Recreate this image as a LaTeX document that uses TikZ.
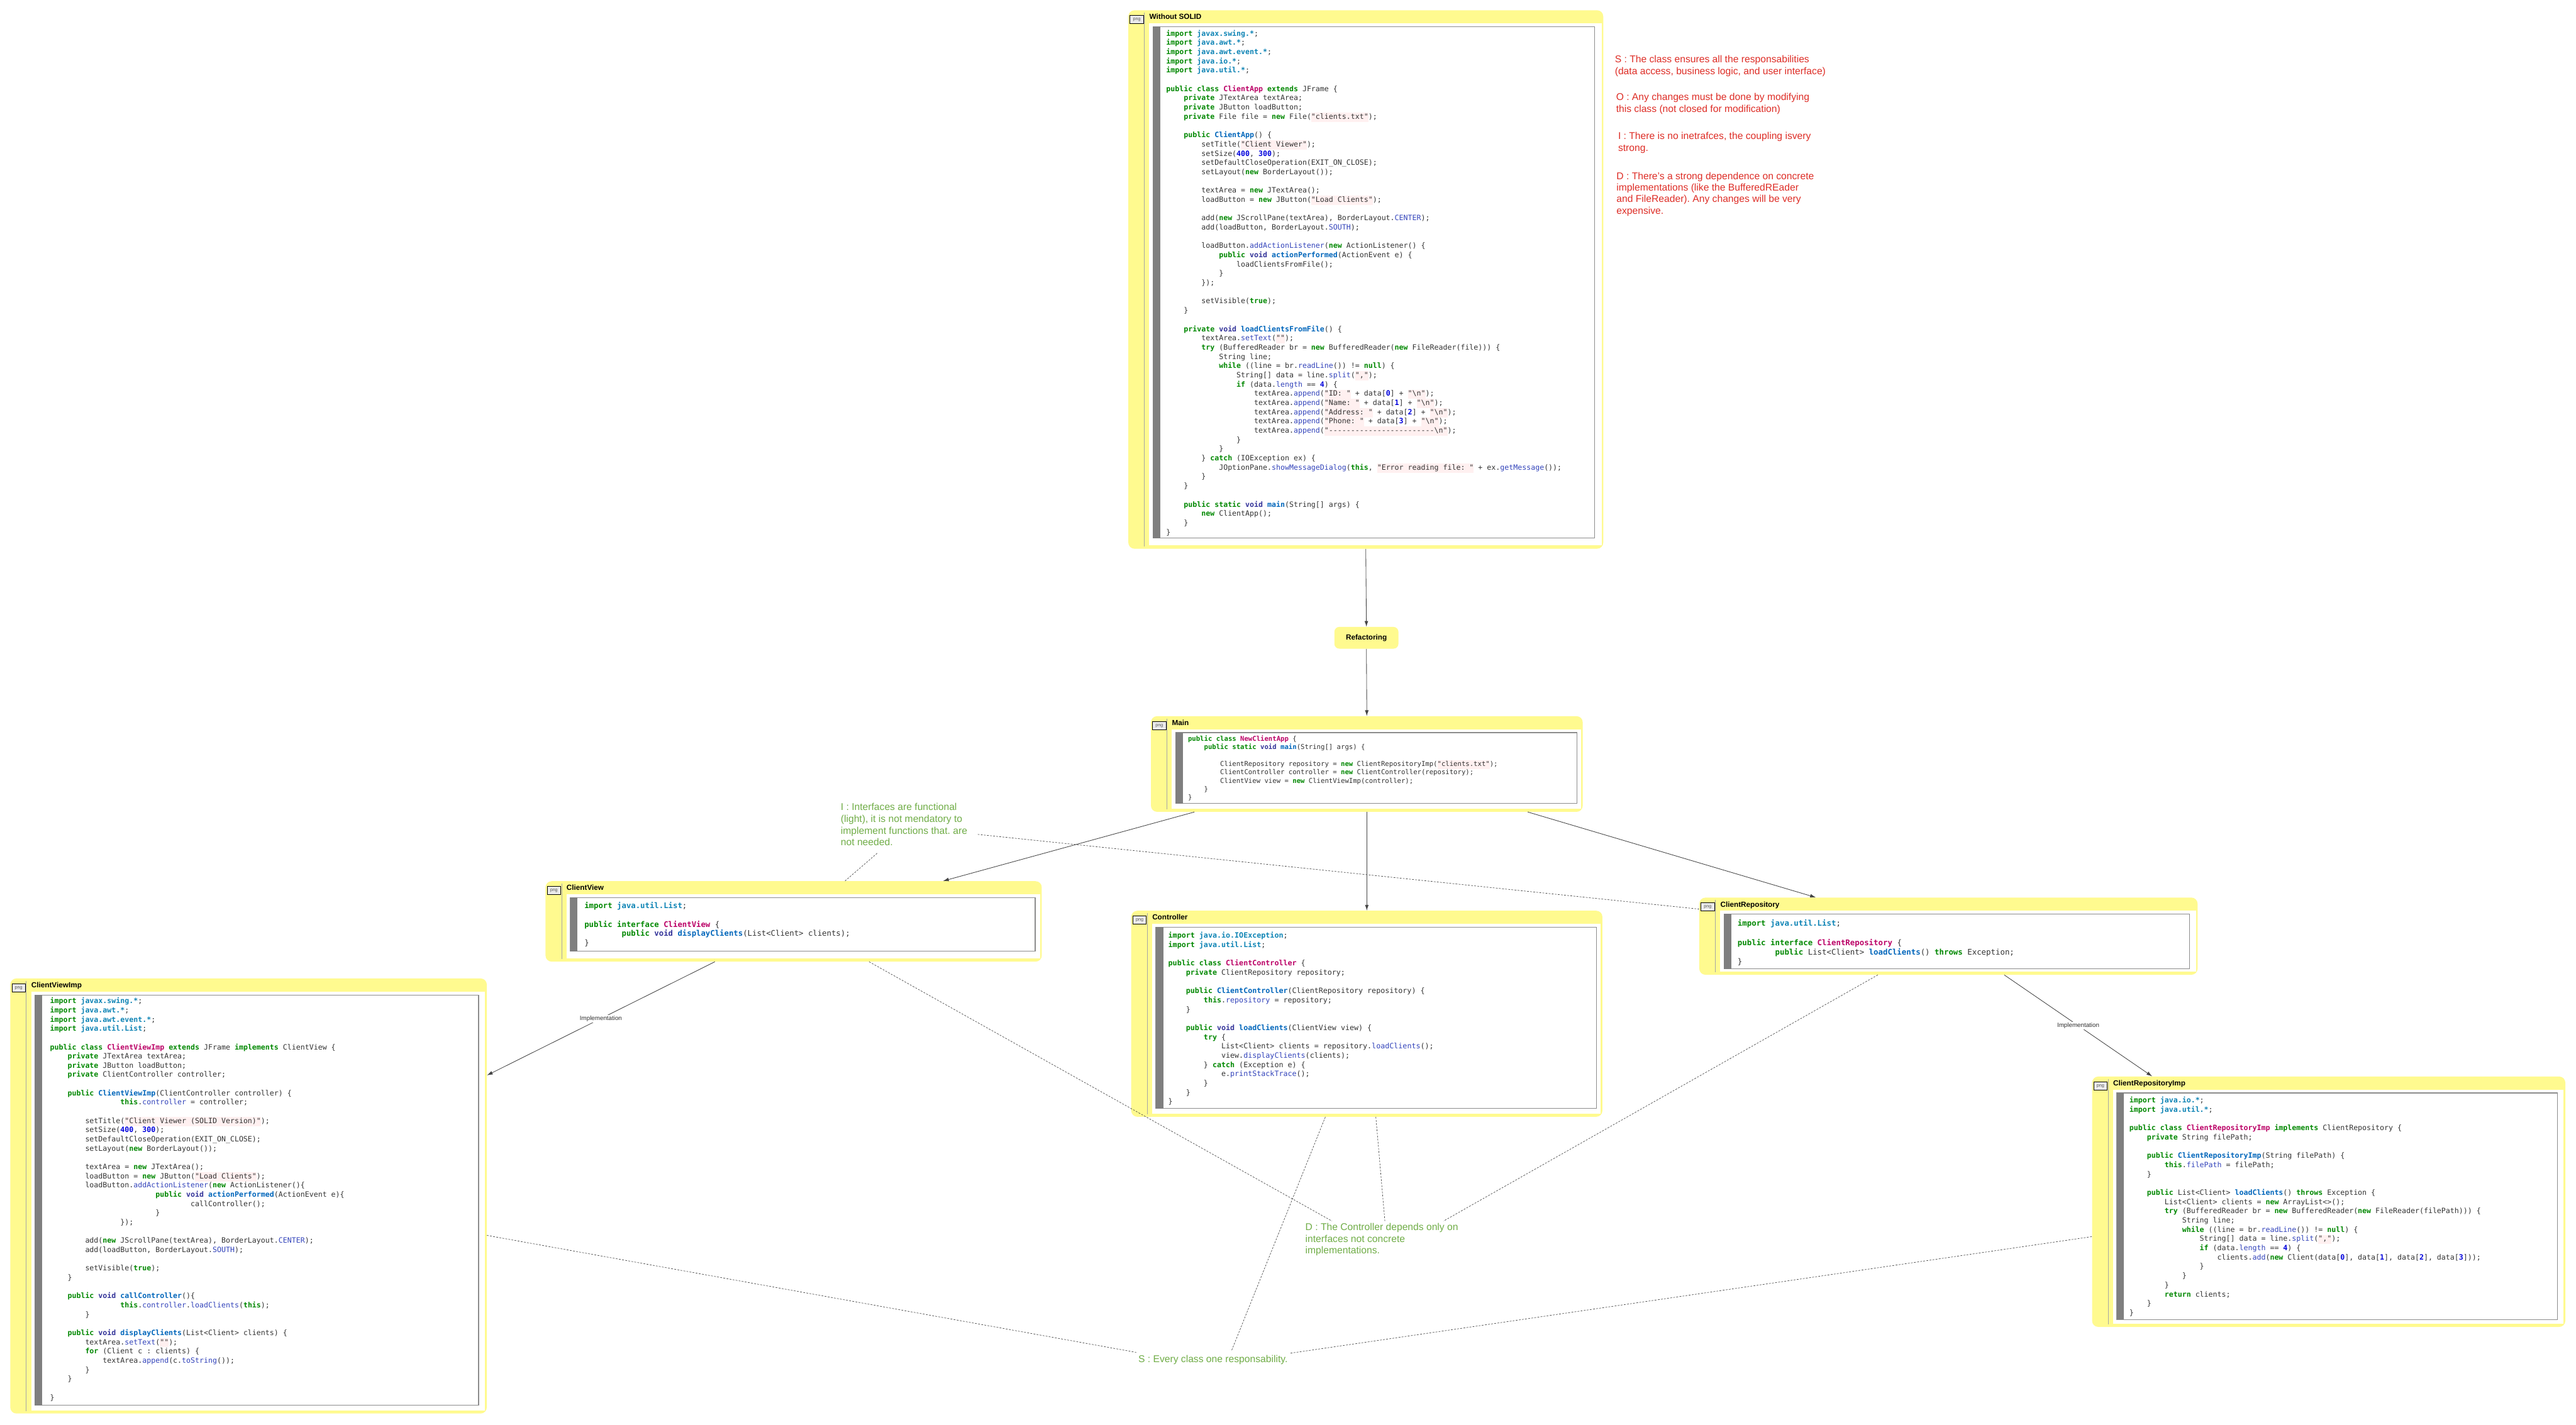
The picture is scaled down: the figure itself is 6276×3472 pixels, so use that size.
\documentclass[tikz,border=0pt]{standalone}
\usepackage{fontspec}
\setmainfont{Liberation Sans}
\newfontfamily\codefont{DejaVu Sans Mono}[Ligatures=TeXOff]
\usetikzlibrary{fit,arrows.meta}
\definecolor{yfill}{HTML}{FFFA8F}
\definecolor{ckw}{HTML}{008800}
\definecolor{cty}{HTML}{333399}
\definecolor{cns}{HTML}{0E84B5}
\definecolor{ccl}{HTML}{BB0066}
\definecolor{cfn}{HTML}{0066BB}
\definecolor{cat}{HTML}{3344BB}
\definecolor{cnum}{HTML}{0000DD}
\definecolor{csbg}{HTML}{FFF0F0}
\definecolor{ctxt}{HTML}{333333}
\definecolor{cred}{HTML}{DE2D26}
\definecolor{cgreen}{HTML}{70AD47}
\definecolor{cline}{HTML}{444444}
\definecolor{cframe}{HTML}{8C8C8C}
\definecolor{cbar}{HTML}{7F7F7F}
\newcommand\xK[1]{{\color{ckw}\bfseries#1}}
\newcommand\xT[1]{{\color{cty}\bfseries#1}}
\newcommand\xN[1]{{\color{cns}\bfseries#1}}
\newcommand\xC[1]{{\color{ccl}\bfseries#1}}
\newcommand\xF[1]{{\color{cfn}\bfseries#1}}
\newcommand\xA[1]{{\color{cat}#1}}
\newcommand\xD[1]{{\color{cnum}\bfseries#1}}
\newcommand\xS[1]{{\setlength\fboxsep{0pt}\colorbox{csbg}{\strut#1}}}
\newcommand\xI[1]{\hskip#1\fontcharwd\font`\x\relax}
\newcommand\xL[1]{\hbox{#1}}
\newcommand\xB{\hbox{}}
\newcommand\xV[1]{\frenchspacing\vtop{\lineskiplimit=-\maxdimen\lineskip=0pt #1}}
\tikzset{
  ybox/.style={fill=yfill, inner sep=0pt, rounded corners=7.5pt},
  iconbox/.style={draw=black, line width=0.6pt, fill=black!8, inner sep=0pt,
    minimum width=16.5pt, minimum height=10pt, text=black!65,
    font=\fontsize{5.5pt}{6pt}\selectfont},
  titletext/.style={anchor=base west, inner sep=0pt, font=\bfseries\fontsize{9pt}{10pt}\selectfont},
  vsep/.style={draw=black!35, line width=0.5pt},
  codeframe/.style={draw=cframe, line width=0.8pt, fill=white},
  codetxt/.style={anchor=base west, inner sep=0pt, text=ctxt},
  arr/.style={draw=cline, line width=0.65pt, -{Latex[length=7pt,width=4.5pt]}},
  dsh/.style={draw=black!75, line width=0.5pt, dash pattern=on 2.2pt off 1.6pt},
  rnote/.style={anchor=base west, inner sep=0pt, text=cred, font=\fontsize{12pt}{14pt}\selectfont},
  gnote/.style={anchor=base west, inner sep=0pt, text=cgreen, font=\fontsize{12pt}{14.2pt}\selectfont},
  impl/.style={fill=white, inner sep=1pt, text=black!80, font=\fontsize{7.5pt}{8pt}\selectfont},
  refbox/.style={fill=yfill, rounded corners=6pt, minimum width=78pt, minimum height=26.5pt,
    inner sep=0pt, font=\bfseries\fontsize{9pt}{10pt}\selectfont}
}
% name, title, x1, y1, x2, y2, frame right inset, frame bottom inset
\newcommand\blk[8]{%
  \node[ybox, fit={(#3,#4) (#5,#6)}] (#1) {};
  \fill[white] (#3+51,#4+32) rectangle (#5-4,#6-8);
  \draw[vsep] (#3+39,#4+6) -- (#3+39,#6-6);
  \node[iconbox] (#1icon) at (#3+20.5,#4+23) {png};
  \node[titletext] (#1title) at (#3+51,#4+22.5) {#2};
  \draw[codeframe] (#3+60,#4+40) rectangle (#5-#7,#6-#8);
  \fill[cbar] (#3+60,#4+40) rectangle (#3+78,#6-#8);
}
\begin{document}
\begin{tikzpicture}[x=0.5pt, y=-0.5pt]
\useasboundingbox (0,0) rectangle (6276,3472);
\fill[white] (0,0) rectangle (6276,3472);

% ---------------- Without SOLID ----------------
\blk{wos}{Without SOLID}{2749}{25}{3906}{1337}{21}{26}
\node[codetxt, font=\codefont\fontsize{8.89pt}{11.25pt}\selectfont] (wosc) at (2841,87.5) {\xV{%
\xL{\xK{import} \xN{javax.swing.*};}
\xL{\xK{import} \xN{java.awt.*};}
\xL{\xK{import} \xN{java.awt.event.*};}
\xL{\xK{import} \xN{java.io.*};}
\xL{\xK{import} \xN{java.util.*};}
\xB
\xL{\xK{public} \xK{class} \xC{ClientApp} \xK{extends} JFrame \{}
\xL{\xI{4}\xK{private} JTextArea textArea;}
\xL{\xI{4}\xK{private} JButton loadButton;}
\xL{\xI{4}\xK{private} File file = \xK{new} File(\xS{"clients.txt"});}
\xB
\xL{\xI{4}\xK{public} \xF{ClientApp}() \{}
\xL{\xI{8}setTitle(\xS{"Client Viewer"});}
\xL{\xI{8}setSize(\xD{400}, \xD{300});}
\xL{\xI{8}setDefaultCloseOperation(EXIT\_ON\_CLOSE);}
\xL{\xI{8}setLayout(\xK{new} BorderLayout());}
\xB
\xL{\xI{8}textArea = \xK{new} JTextArea();}
\xL{\xI{8}loadButton = \xK{new} JButton(\xS{"Load Clients"});}
\xB
\xL{\xI{8}add(\xK{new} JScrollPane(textArea), BorderLayout.\xA{CENTER});}
\xL{\xI{8}add(loadButton, BorderLayout.\xA{SOUTH});}
\xB
\xL{\xI{8}loadButton.\xA{addActionListener}(\xK{new} ActionListener() \{}
\xL{\xI{12}\xK{public} \xT{void} \xF{actionPerformed}(ActionEvent e) \{}
\xL{\xI{16}loadClientsFromFile();}
\xL{\xI{12}\}}
\xL{\xI{8}\});}
\xB
\xL{\xI{8}setVisible(\xK{true});}
\xL{\xI{4}\}}
\xB
\xL{\xI{4}\xK{private} \xT{void} \xF{loadClientsFromFile}() \{}
\xL{\xI{8}textArea.\xA{setText}(\xS{""});}
\xL{\xI{8}\xK{try} (BufferedReader br = \xK{new} BufferedReader(\xK{new} FileReader(file))) \{}
\xL{\xI{12}String line;}
\xL{\xI{12}\xK{while} ((line = br.\xA{readLine}()) != \xK{null}) \{}
\xL{\xI{16}String[] data = line.\xA{split}(\xS{","});}
\xL{\xI{16}\xK{if} (data.\xA{length} == \xD{4}) \{}
\xL{\xI{20}textArea.\xA{append}(\xS{"ID: "} + data[\xD{0}] + \xS{"\textbackslash n"});}
\xL{\xI{20}textArea.\xA{append}(\xS{"Name: "} + data[\xD{1}] + \xS{"\textbackslash n"});}
\xL{\xI{20}textArea.\xA{append}(\xS{"Address: "} + data[\xD{2}] + \xS{"\textbackslash n"});}
\xL{\xI{20}textArea.\xA{append}(\xS{"Phone: "} + data[\xD{3}] + \xS{"\textbackslash n"});}
\xL{\xI{20}textArea.\xA{append}(\xS{"------------------------\textbackslash n"});}
\xL{\xI{16}\}}
\xL{\xI{12}\}}
\xL{\xI{8}\} \xK{catch} (IOException ex) \{}
\xL{\xI{12}JOptionPane.\xA{showMessageDialog}(\xK{this}, \xS{"Error reading file: "} + ex.\xA{getMessage}());}
\xL{\xI{8}\}}
\xL{\xI{4}\}}
\xB
\xL{\xI{4}\xK{public} \xK{static} \xT{void} \xF{main}(String[] args) \{}
\xL{\xI{8}\xK{new} ClientApp();}
\xL{\xI{4}\}}
\xL{\}}
}};

% ---------------- Refactoring ----------------
\node[refbox] (refac) at (3329,1554) {Refactoring};

% ---------------- Main ----------------
\blk{main}{Main}{2804}{1745}{3856}{1978}{14}{20}
\node[codetxt, font=\codefont\fontsize{8.14pt}{10.2pt}\selectfont] (mainc) at (2894,1806) {\xV{%
\xL{\xK{public} \xK{class} \xC{NewClientApp} \{}
\xL{\xI{4}\xK{public} \xK{static} \xT{void} \xF{main}(String[] args) \{}
\xB
\xL{\xI{8}ClientRepository repository = \xK{new} ClientRepositoryImp(\xS{"clients.txt"});}
\xL{\xI{8}ClientController controller = \xK{new} ClientController(repository);}
\xL{\xI{8}ClientView view = \xK{new} ClientViewImp(controller);}
\xL{\xI{4}\}}
\xL{\}}
}};

% ---------------- ClientView ----------------
\blk{cv}{ClientView}{1329}{2147}{2538}{2343}{16}{25}
\node[codetxt, font=\codefont\fontsize{9.43pt}{11.375pt}\selectfont] (cvc) at (1423.5,2213) {\xV{%
\xL{\xK{import} \xN{java.util.List};}
\xB
\xL{\xK{public} \xK{interface} \xC{ClientView} \{}
\xL{\xI{8}\xK{public} \xT{void} \xF{displayClients}(List<Client> clients);}
\xL{\}}
}};

% ---------------- Controller ----------------
\blk{ctrl}{Controller}{2756}{2219}{3904}{2721}{15}{20}
\node[codetxt, font=\codefont\fontsize{8.95pt}{11.23pt}\selectfont] (ctrlc) at (2846,2286) {\xV{%
\xL{\xK{import} \xN{java.io.IOException};}
\xL{\xK{import} \xN{java.util.List};}
\xB
\xL{\xK{public} \xK{class} \xC{ClientController} \{}
\xL{\xI{4}\xK{private} ClientRepository repository;}
\xB
\xL{\xI{4}\xK{public} \xF{ClientController}(ClientRepository repository) \{}
\xL{\xI{8}\xK{this}.\xA{repository} = repository;}
\xL{\xI{4}\}}
\xB
\xL{\xI{4}\xK{public} \xT{void} \xF{loadClients}(ClientView view) \{}
\xL{\xI{8}\xK{try} \{}
\xL{\xI{12}List<Client> clients = repository.\xA{loadClients}();}
\xL{\xI{12}view.\xA{displayClients}(clients);}
\xL{\xI{8}\} \xK{catch} (Exception e) \{}
\xL{\xI{12}e.\xA{printStackTrace}();}
\xL{\xI{8}\}}
\xL{\xI{4}\}}
\xL{\}}
}};

% ---------------- ClientRepository ----------------
\blk{cr}{ClientRepository}{4140}{2187}{5354}{2375}{20}{14}
\node[codetxt, font=\codefont\fontsize{9.49pt}{11.75pt}\selectfont] (crc) at (4233,2256) {\xV{%
\xL{\xK{import} \xN{java.util.List};}
\xB
\xL{\xK{public} \xK{interface} \xC{ClientRepository} \{}
\xL{\xI{8}\xK{public} List<Client> \xF{loadClients}() \xK{throws} Exception;}
\xL{\}}
}};

% ---------------- ClientViewImp ----------------
\blk{cvi}{ClientViewImp}{25}{2384}{1186}{3444}{20}{20}
\node[codetxt, font=\codefont\fontsize{8.89pt}{11.23pt}\selectfont] (cvic) at (121.6,2445) {\xV{%
\xL{\xK{import} \xN{javax.swing.*};}
\xL{\xK{import} \xN{java.awt.*};}
\xL{\xK{import} \xN{java.awt.event.*};}
\xL{\xK{import} \xN{java.util.List};}
\xB
\xL{\xK{public} \xK{class} \xC{ClientViewImp} \xK{extends} JFrame \xK{implements} ClientView \{}
\xL{\xI{4}\xK{private} JTextArea textArea;}
\xL{\xI{4}\xK{private} JButton loadButton;}
\xL{\xI{4}\xK{private} ClientController controller;}
\xB
\xL{\xI{4}\xK{public} \xF{ClientViewImp}(ClientController controller) \{}
\xL{\xI{16}\xK{this}.\xA{controller} = controller;}
\xB
\xL{\xI{8}setTitle(\xS{"Client Viewer (SOLID Version)"});}
\xL{\xI{8}setSize(\xD{400}, \xD{300});}
\xL{\xI{8}setDefaultCloseOperation(EXIT\_ON\_CLOSE);}
\xL{\xI{8}setLayout(\xK{new} BorderLayout());}
\xB
\xL{\xI{8}textArea = \xK{new} JTextArea();}
\xL{\xI{8}loadButton = \xK{new} JButton(\xS{"Load Clients"});}
\xL{\xI{8}loadButton.\xA{addActionListener}(\xK{new} ActionListener()\{}
\xL{\xI{24}\xK{public} \xT{void} \xF{actionPerformed}(ActionEvent e)\{}
\xL{\xI{32}callController();}
\xL{\xI{24}\}}
\xL{\xI{16}\});}
\xB
\xL{\xI{8}add(\xK{new} JScrollPane(textArea), BorderLayout.\xA{CENTER});}
\xL{\xI{8}add(loadButton, BorderLayout.\xA{SOUTH});}
\xB
\xL{\xI{8}setVisible(\xK{true});}
\xL{\xI{4}\}}
\xB
\xL{\xI{4}\xK{public} \xT{void} \xF{callController}()\{}
\xL{\xI{16}\xK{this}.\xA{controller}.\xA{loadClients}(\xK{this});}
\xL{\xI{8}\}}
\xB
\xL{\xI{4}\xK{public} \xT{void} \xF{displayClients}(List<Client> clients) \{}
\xL{\xI{8}textArea.\xA{setText}(\xS{""});}
\xL{\xI{8}\xK{for} (Client c : clients) \{}
\xL{\xI{12}textArea.\xA{append}(c.\xA{toString}());}
\xL{\xI{8}\}}
\xL{\xI{4}\}}
\xB
\xL{\}}
}};

% ---------------- ClientRepositoryImp ----------------
\blk{cri}{ClientRepositoryImp}{5097}{2623}{6250}{3233}{19}{18}
\node[codetxt, font=\codefont\fontsize{8.89pt}{11.25pt}\selectfont] (cric) at (5187.6,2687) {\xV{%
\xL{\xK{import} \xN{java.io.*};}
\xL{\xK{import} \xN{java.util.*};}
\xB
\xL{\xK{public} \xK{class} \xC{ClientRepositoryImp} \xK{implements} ClientRepository \{}
\xL{\xI{4}\xK{private} String filePath;}
\xB
\xL{\xI{4}\xK{public} \xF{ClientRepositoryImp}(String filePath) \{}
\xL{\xI{8}\xK{this}.\xA{filePath} = filePath;}
\xL{\xI{4}\}}
\xB
\xL{\xI{4}\xK{public} List<Client> \xF{loadClients}() \xK{throws} Exception \{}
\xL{\xI{8}List<Client> clients = \xK{new} ArrayList<>();}
\xL{\xI{8}\xK{try} (BufferedReader br = \xK{new} BufferedReader(\xK{new} FileReader(filePath))) \{}
\xL{\xI{12}String line;}
\xL{\xI{12}\xK{while} ((line = br.\xA{readLine}()) != \xK{null}) \{}
\xL{\xI{16}String[] data = line.\xA{split}(\xS{","});}
\xL{\xI{16}\xK{if} (data.\xA{length} == \xD{4}) \{}
\xL{\xI{20}clients.\xA{add}(\xK{new} Client(data[\xD{0}], data[\xD{1}], data[\xD{2}], data[\xD{3}]));}
\xL{\xI{16}\}}
\xL{\xI{12}\}}
\xL{\xI{8}\}}
\xL{\xI{8}\xK{return} clients;}
\xL{\xI{4}\}}
\xL{\}}
}};

% ---------------- red notes ----------------
\node[rnote] (nS) at (3934,153) {\xV{\xL{S : The class ensures all the responsabilities}\xL{(data access, business logic, and user interface)}}};
\node[rnote] (nO) at (3937,245) {\xV{\xL{O : Any changes must be done by modifying}\xL{this class (not closed for modification)}}};
\node[rnote] (nI) at (3942,340) {\xV{\xL{I : There is no inetrafces, the coupling isvery}\xL{strong.}}};
\node[rnote] (nD) at (3938,437) {\xV{\xL{D : There's a strong dependence on concrete}\xL{implementations (like the BufferedREader}\xL{and FileReader). Any changes will be very}\xL{expensive.}}};

% ---------------- green notes ----------------
\node[gnote] (inote) at (2048,1975) {\xV{\xL{I : Interfaces are functional}\xL{(light), it is not mendatory to}\xL{implement functions that. are}\xL{not needed.}}};
\node[gnote] (dnote) at (3180,2998) {\xV{\xL{D : The Controller depends only on}\xL{interfaces not concrete}\xL{implementations.}}};
\node[gnote] (snote) at (2773,3320) {\xV{\xL{S : Every class one responsability.}}};

% ---------------- connectors ----------------
\draw[arr] (wos.south) -- (refac.north);
\draw[arr] (refac.south) -- (main.north);
\draw[arr] ([shift={(-420,0)}]main.south) -- ([shift={(364,0)}]cv.north);
\draw[arr] (main.south) -- (ctrl.north);
\draw[arr] ([shift={(392,0)}]main.south) -- ([shift={(-323,0)}]cr.north);
\draw[arr] ([shift={(-192,0)}]cv.south) -- node[impl] (impl1) {Implementation} ([shift={(0,-294)}]cvi.east);
\draw[arr] ([shift={(136,0)}]cr.south) -- node[impl] (impl2) {Implementation} ([shift={(-430,0)}]cri.north);

\draw[dsh] ([shift={(334,58)}]inote.base west) -- ([shift={(0,-66)}]cr.west);
\draw[dsh] ([shift={(89,104)}]inote.base west) -- ([shift={(125,0)}]cv.north);
\draw[dsh] ([shift={(184,0)}]cv.south) -- ([shift={(65,-23)}]dnote.base west);
\draw[dsh] ([shift={(22,0)}]ctrl.south) -- ([shift={(194,-23)}]dnote.base west);
\draw[dsh] ([shift={(-172,0)}]cr.south) -- ([shift={(337,-23)}]dnote.base west);
\draw[dsh] ([shift={(-101,0)}]ctrl.south) -- ([shift={(227,-28)}]snote.base west);
\draw[dsh] ([shift={(0,96)}]cvi.east) -- ([shift={(-5,-25)}]snote.base west);
\draw[dsh] ([shift={(371,-23)}]snote.base west) -- ([shift={(0,85)}]cri.west);
\end{tikzpicture}
\end{document}
